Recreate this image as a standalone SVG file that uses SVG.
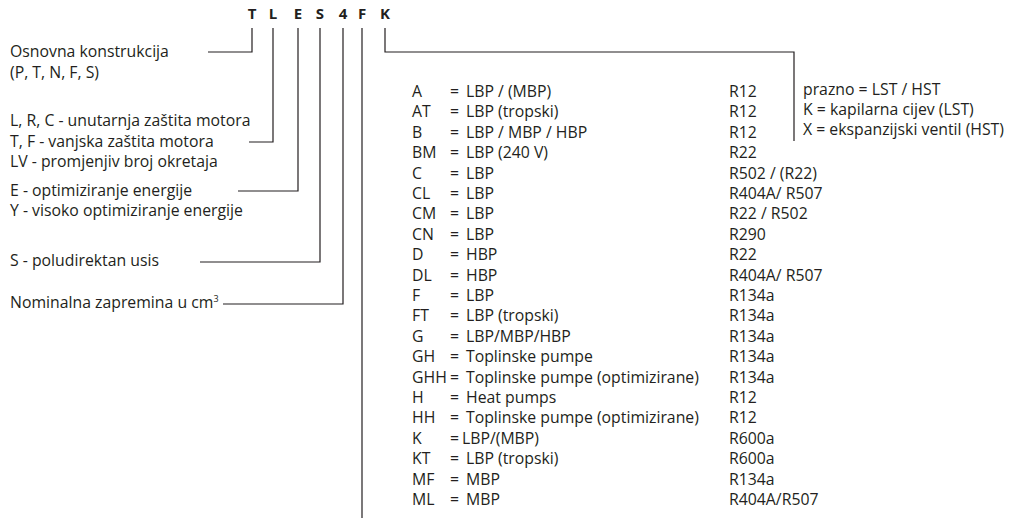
<svg xmlns="http://www.w3.org/2000/svg" width="1011" height="519" viewBox="0 0 1011 519">
<style>
text{font-family:"Open Sans","Liberation Sans",sans-serif;font-size:15.8px;fill:#231f20}
.hd{font-weight:bold;font-size:15px;text-anchor:middle}
.ln{fill:none;stroke:#231f20;stroke-width:1.2}
</style>
<rect width="1011" height="519" fill="#fff"/>
<g id="header">
<text class="hd" x="252" y="19">T</text>
<text class="hd" x="273" y="19">L</text>
<text class="hd" x="298" y="19">E</text>
<text class="hd" x="320" y="19">S</text>
<text class="hd" x="343" y="19">4</text>
<text class="hd" x="362" y="19">F</text>
<text class="hd" x="385" y="19">K</text>
</g>
<g id="connectors">
<polyline class="ln" points="252,28 252,52 208,52"/>
<polyline class="ln" points="273,28 273,142 249,142"/>
<polyline class="ln" points="298,28 298,191 238,191"/>
<polyline class="ln" points="320,28 320,262 200,262"/>
<polyline class="ln" points="343,28 343,304 223,304"/>
<polyline class="ln" points="362,28 362,518"/>
<polyline class="ln" points="385,28 385,52 794,52 794,141"/>
</g>
<g id="construction"><text x="10" y="57">Osnovna konstrukcija</text><text x="10" y="78">(P, T, N, F, S)</text></g>
<g id="protection"><text x="10" y="126">L, R, C - unutarnja zaštita motora</text><text x="10" y="147">T, F - vanjska zaštita motora</text><text x="10" y="167">LV - promjenjiv broj okretaja</text></g>
<g id="energy"><text x="10" y="196">E - optimiziranje energije</text><text x="10" y="216">Y - visoko optimiziranje energije</text></g>
<g id="suction"><text x="10" y="266">S - poludirektan usis</text></g>
<g id="displacement"><text x="10" y="308">Nominalna zapremina u cm<tspan font-size="9" dy="-6">3</tspan></text></g>
<g id="application">
<text x="412" y="97">A</text><text x="450" y="97">=</text><text x="466" y="97">LBP / (MBP)</text><text x="729" y="97">R12</text>
<text x="412" y="117">AT</text><text x="450" y="117">=</text><text x="466" y="117">LBP (tropski)</text><text x="729" y="117">R12</text>
<text x="412" y="138">B</text><text x="450" y="138">=</text><text x="466" y="138">LBP / MBP / HBP</text><text x="729" y="138">R12</text>
<text x="412" y="158">BM</text><text x="450" y="158">=</text><text x="466" y="158">LBP (240 V)</text><text x="729" y="158">R22</text>
<text x="412" y="179">C</text><text x="450" y="179">=</text><text x="466" y="179">LBP</text><text x="729" y="179">R502 / (R22)</text>
<text x="412" y="199">CL</text><text x="450" y="199">=</text><text x="466" y="199">LBP</text><text x="729" y="199">R404A/ R507</text>
<text x="412" y="219">CM</text><text x="450" y="219">=</text><text x="466" y="219">LBP</text><text x="729" y="219">R22 / R502</text>
<text x="412" y="240">CN</text><text x="450" y="240">=</text><text x="466" y="240">LBP</text><text x="729" y="240">R290</text>
<text x="412" y="260">D</text><text x="450" y="260">=</text><text x="466" y="260">HBP</text><text x="729" y="260">R22</text>
<text x="412" y="281">DL</text><text x="450" y="281">=</text><text x="466" y="281">HBP</text><text x="729" y="281">R404A/ R507</text>
<text x="412" y="301">F</text><text x="450" y="301">=</text><text x="466" y="301">LBP</text><text x="729" y="301">R134a</text>
<text x="412" y="321">FT</text><text x="450" y="321">=</text><text x="466" y="321">LBP (tropski)</text><text x="729" y="321">R134a</text>
<text x="412" y="342">G</text><text x="450" y="342">=</text><text x="466" y="342">LBP/MBP/HBP</text><text x="729" y="342">R134a</text>
<text x="412" y="362">GH</text><text x="450" y="362">=</text><text x="466" y="362">Toplinske pumpe</text><text x="729" y="362">R134a</text>
<text x="412" y="383">GHH</text><text x="450" y="383">=</text><text x="466" y="383">Toplinske pumpe (optimizirane)</text><text x="729" y="383">R134a</text>
<text x="412" y="403">H</text><text x="450" y="403">=</text><text x="466" y="403">Heat pumps</text><text x="729" y="403">R12</text>
<text x="412" y="423">HH</text><text x="450" y="423">=</text><text x="466" y="423">Toplinske pumpe (optimizirane)</text><text x="729" y="423">R12</text>
<text x="412" y="444">K</text><text x="450" y="444">=</text><text x="462" y="444">LBP/(MBP)</text><text x="729" y="444">R600a</text>
<text x="412" y="464">KT</text><text x="450" y="464">=</text><text x="466" y="464">LBP (tropski)</text><text x="729" y="464">R600a</text>
<text x="412" y="485">MF</text><text x="450" y="485">=</text><text x="466" y="485">MBP</text><text x="729" y="485">R134a</text>
<text x="412" y="505">ML</text><text x="450" y="505">=</text><text x="466" y="505">MBP</text><text x="729" y="505">R404A/R507</text>
</g>
<g id="expansion">
<text x="803" y="95">prazno = LST / HST</text>
<text x="803" y="115">K = kapilarna cijev (LST)</text>
<text x="803" y="135">X = ekspanzijski ventil (HST)</text>
</g>
</svg>
